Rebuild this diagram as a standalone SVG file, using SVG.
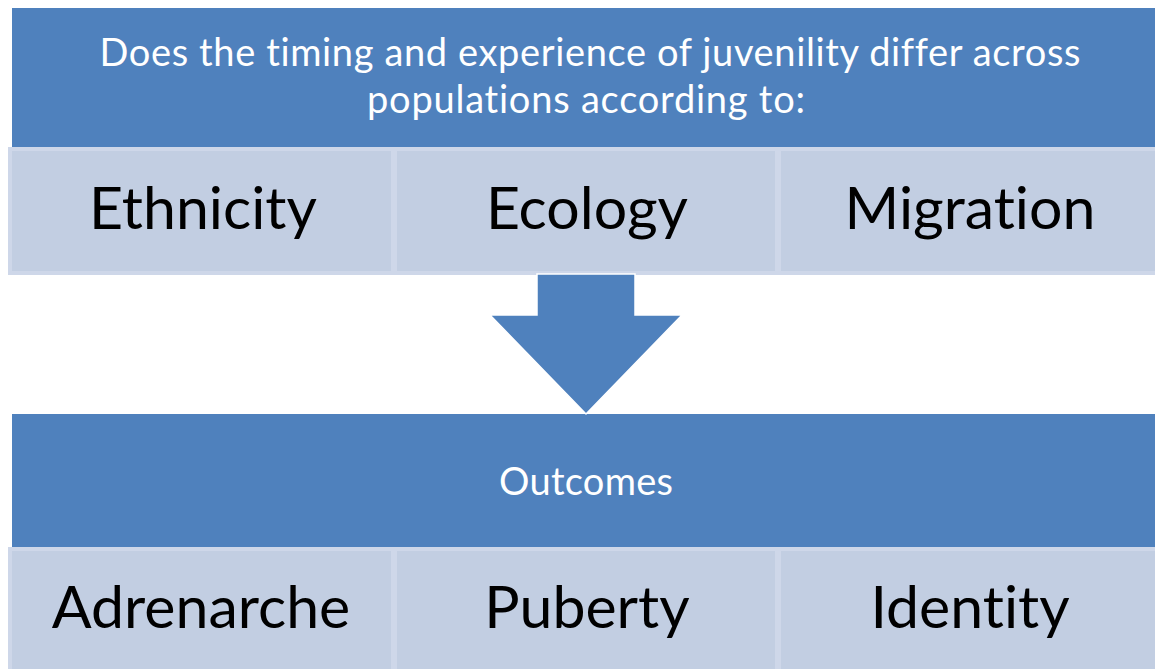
<svg xmlns="http://www.w3.org/2000/svg" width="1155" height="669" viewBox="0 0 1155 669">
<style>
.hdr{fill:#4F81BD;}
.cell{fill:#C2CEE2;stroke:#CED7E9;stroke-width:4;}
.wt{font-family:Lato,"Open Sans",sans-serif;fill:#FFFFFF;font-size:38px;text-anchor:middle;font-variant-ligatures:none;}
.bt{font-family:Lato,"Open Sans",sans-serif;fill:#000000;font-size:59px;text-anchor:middle;font-variant-ligatures:none;}
</style>
<rect width="1155" height="669" fill="#FFFFFF"/>
<g id="top-header">
<rect class="hdr" x="12" y="8" width="1150" height="141"/>
<text class="wt" x="590" y="66" textLength="981" lengthAdjust="spacing">Does the timing and experience of juvenility differ across</text>
<text class="wt" x="586" y="113" textLength="438" lengthAdjust="spacing">populations according to:</text>
</g>
<g id="ethnicity">
<rect class="cell" x="10" y="149" width="383" height="124"/>
<text class="bt" x="203" y="229">Ethnicity</text>
</g>
<g id="ecology">
<rect class="cell" x="395" y="149" width="382" height="124"/>
<text class="bt" x="587" y="229">Ecology</text>
</g>
<g id="migration">
<rect class="cell" x="779" y="149" width="380" height="124"/>
<text class="bt" x="970" y="229">Migration</text>
</g>
<g id="outcomes-header">
<rect class="hdr" x="12" y="414" width="1150" height="135"/>
<text class="wt" x="586" y="495" textLength="174" lengthAdjust="spacing">Outcomes</text>
</g>
<g id="connectors">
<path d="M537,274 L635,274 L635,315 L682,315 L586,414 L490,315 L537,315 Z" fill="#4F81BD" stroke="#FFFFFF" stroke-width="1.5"/>
</g>
<g id="adrenarche">
<rect class="cell" x="10" y="549" width="383" height="126"/>
<text class="bt" x="201" y="628">Adrenarche</text>
</g>
<g id="puberty">
<rect class="cell" x="395" y="549" width="382" height="126"/>
<text class="bt" x="587" y="628">Puberty</text>
</g>
<g id="identity">
<rect class="cell" x="779" y="549" width="380" height="126"/>
<text class="bt" x="970" y="628">Identity</text>
</g>
</svg>
